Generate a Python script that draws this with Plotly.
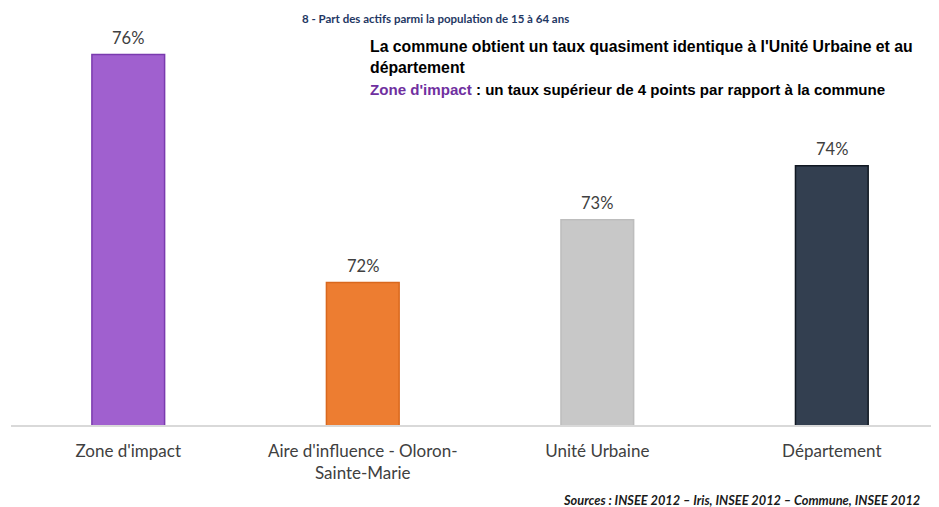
import plotly.graph_objects as go

# données
categories = ["Zone d'impact", "Aire d'influence - Oloron-<br>Sainte-Marie", "Unité Urbaine", "Département"]
valeurs = [76.0, 72.0, 73.1, 74.05]
etiquettes = ["76%", "72%", "73%", "74%"]
couleurs = ["#A060CF", "#ED7D31", "#C8C8C8", "#333F50"]
bordures = ["#7A3AAE", "#D9681E", "#BDBDBD", "#111822"]

fig = go.Figure()
fig.add_trace(go.Bar(
    x=categories, y=valeurs,
    marker=dict(color=couleurs, line=dict(color=bordures, width=1.5)),
    width=0.31,
    hoverinfo="skip",
))

# étiquettes de valeur au-dessus des barres
for c, v, t in zip(categories, valeurs, etiquettes):
    fig.add_annotation(x=c, y=v, text=t, showarrow=False, yanchor="bottom", yshift=5,
                       font=dict(family="Lato", size=16.5, color="#404040"))

# titre et commentaires
fig.add_annotation(xref="paper", yref="paper", x=0.311, y=1.0, xanchor="left", yanchor="middle",
                   yshift=-10, showarrow=False,
                   text="<b>8 - Part des actifs parmi la population de 15 à 64 ans</b>",
                   font=dict(family="Lato", size=11.5, color="#1F3864"))
fig.add_annotation(xref="paper", yref="paper", x=0.385, y=1.0, xanchor="left", yanchor="top",
                   yshift=-28, showarrow=False, align="left",
                   text="<b>La commune obtient un taux quasiment identique à l'Unité Urbaine et au<br>département</b>",
                   font=dict(family="Liberation Sans", size=15.8, color="#000000"))
fig.add_annotation(xref="paper", yref="paper", x=0.385, y=1.0, xanchor="left", yanchor="middle",
                   yshift=-81, showarrow=False, align="left",
                   text="<b><span style='color:#7030A0'>Zone d'impact</span> : un taux supérieur de 4 points par rapport à la commune</b>",
                   font=dict(family="Liberation Sans", size=15.1, color="#000000"))
fig.add_annotation(xref="paper", yref="paper", x=0.982, y=0, xanchor="right", yanchor="middle",
                   yshift=-75, showarrow=False,
                   text="<b><i>Sources : INSEE 2012 – Iris, INSEE 2012 – Commune, INSEE 2012</i></b>",
                   font=dict(family="Lato", size=12.8, color="#1a1a1a"))

fig.update_xaxes(range=[-0.5, 3.457], showline=True, linecolor="#D9D9D9", linewidth=1.5,
                 ticks="outside", ticklen=10, tickcolor="rgba(0,0,0,0)",
                 tickfont=dict(family="Lato", size=17, color="#404040"), showgrid=False)
fig.update_yaxes(range=[69.5, 76.816], visible=False, showgrid=False)

# la page ajoute une marge de 8 px autour de la figure
fig.update_layout(
    width=931, height=499,
    margin=dict(l=3, r=0, t=0, b=82),
    plot_bgcolor="white", paper_bgcolor="white",
    showlegend=False,
)

fig.write_html("out.html")
